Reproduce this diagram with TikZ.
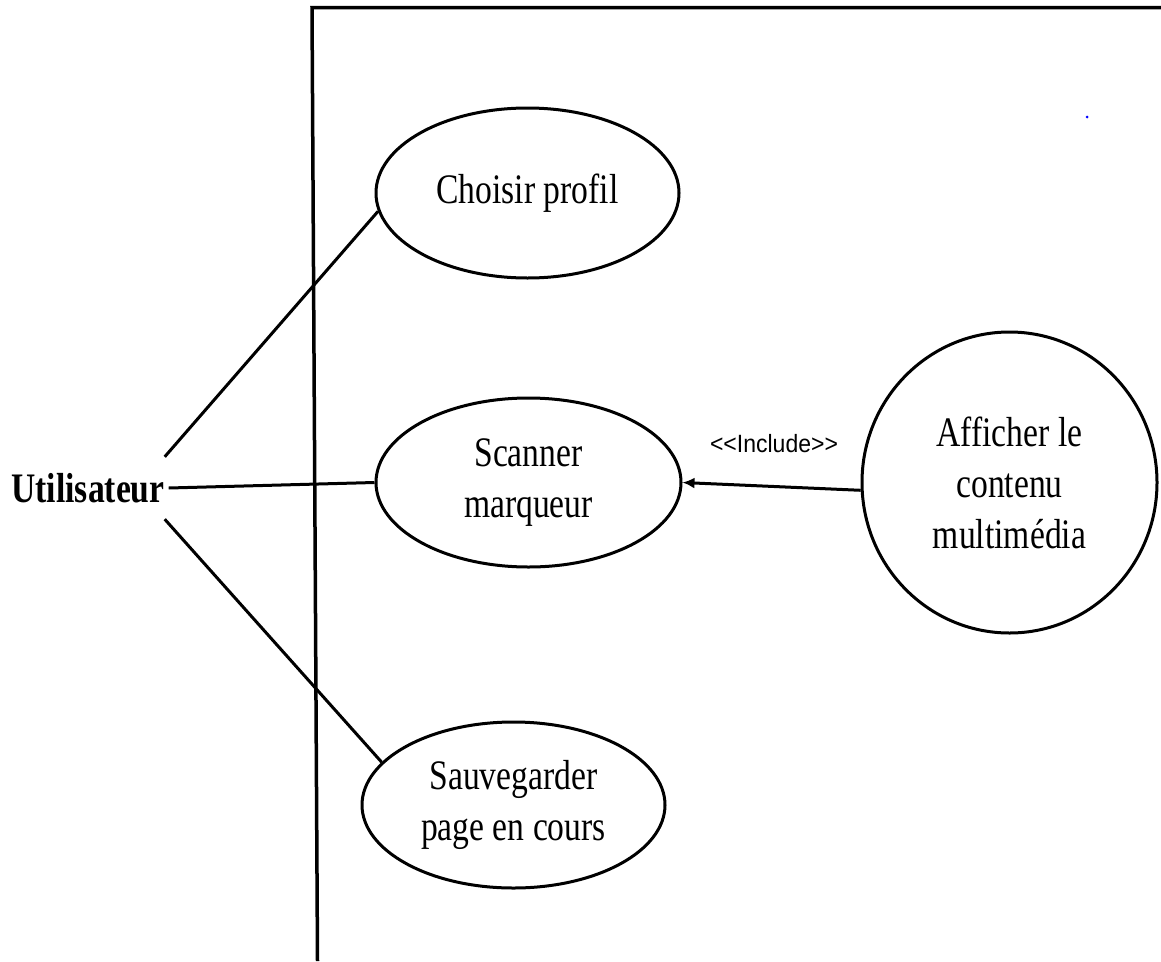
\documentclass[tikz,border=0pt]{standalone}
\usepackage{fontspec}
\newfontfamily\ucserif[FakeStretch=0.8]{Liberation Serif}
\newfontfamily\ucsans[FakeStretch=0.92]{Liberation Sans}
\usetikzlibrary{shapes.geometric, arrows.meta}
\tikzset{
  usecase/.style={ellipse, draw, line width=3pt, inner sep=0pt, align=center,
    font=\ucserif\fontsize{42}{51}\selectfont},
  actor/.style={inner sep=0pt, minimum height=62pt, font=\ucserif\bfseries\fontsize{42}{50}\selectfont},
  assoc/.style={line width=3pt},
  include/.style={line width=3pt, -{Latex[length=12pt, width=11pt]}},
}

\begin{document}
\begin{tikzpicture}[x=1pt, y=-1pt]
  \useasboundingbox (0,0) rectangle (1161,961);
  % system boundary
  \coordinate (sysBL) at (317.5,961);  \coordinate (sysTL) at (312,7.5);
  \coordinate (sysTR) at (1161,7.5);
  \draw[line width=3.5pt] (sysBL) -- (sysTL) -- (sysTR);
  % use cases
  \node[usecase, minimum width=303pt, minimum height=170pt] (choisir) at (527.5,193) {Choisir profil};
  \node[usecase, minimum width=305pt, minimum height=169pt] (scanner) at (528.5,482.5) {Scanner\\marqueur};
  \node[usecase, minimum width=303pt, minimum height=166pt] (sauver)  at (513.5,805) {Sauvegarder\\page en cours};
  \node[usecase, minimum width=295pt, minimum height=301pt] (afficher) at (1009.5,482.5) {Afficher le\\contenu\\multimédia};
  % actor
  \node[actor] (user) at (88,488) {Utilisateur};
  \draw[assoc] (user.north east) -- (choisir.187);
  \draw[assoc] ([xshift=4pt]user.east) -- (scanner.west);
  \draw[assoc] (user.south east) -- (sauver.162);
  % include
  \draw[include] (afficher.183) -- (scanner.east);
  \node[font=\ucsans\fontsize{25}{30}\selectfont] (incl) at (774,444) {<{}<Include>{}>};
  \fill[blue] (1087,117) circle (1.5pt);
\end{tikzpicture}
\end{document}
